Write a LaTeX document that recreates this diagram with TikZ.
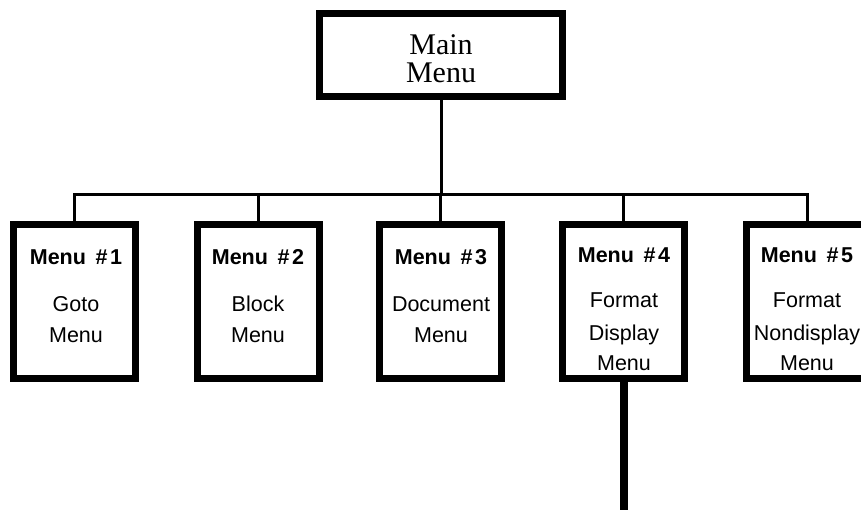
\documentclass[tikz,border=0pt]{standalone}
\usepackage{fontspec}
\setmainfont{Liberation Serif}
\newfontfamily\sansf{Liberation Sans}
\newcommand{\mnum}[1]{Menu\hspace{0.45em}\#\hspace{0.12em}#1}
\begin{document}
\begin{tikzpicture}[x=1pt,y=-1pt,
  menubox/.style={draw=black,line width=7pt,fill=white,rectangle,minimum width=122pt,minimum height=153pt,inner sep=0pt,outer sep=0pt},
  mainbox/.style={draw=black,line width=7pt,fill=white,rectangle,minimum width=243pt,minimum height=83pt,inner sep=0pt,outer sep=0pt},
  conn/.style={draw=black,line width=3pt},
  stem/.style={draw=black,line width=8pt},
  ttl/.style={anchor=base,inner sep=0pt,font=\sansf\bfseries\fontsize{21.5}{24}\selectfont},
  txt/.style={anchor=base,inner sep=0pt,font=\sansf\fontsize{21.5}{24}\selectfont},
  mtxt/.style={anchor=center,align=center,inner sep=0pt,font=\fontsize{30}{28}\selectfont}]
\useasboundingbox (0,0) rectangle (861,510);
\coordinate (busR) at (807,195);
\coordinate (endpt) at (624,515);
\node[mainbox] (main) at (441,55) {};
\node[menubox] (b1) at (74.5,301.5) {};
\node[menubox] (b2) at (258,301.5) {};
\node[menubox] (b3) at (440.5,301.5) {};
\node[menubox] (b4) at (623.5,301.5) {};
\node[menubox] (b5) at (807,301.5) {};
% connectors
\draw[conn] (b1.north) |- (busR) -- (b5.north);
\draw[conn] (main.south) -- (main.south |- busR);
\draw[conn] (b2.north) -- (b2.north |- busR);
\draw[conn] (b3.north) -- (b3.north |- busR);
\draw[conn] (b4.north) -- (b4.north |- busR);
\draw[stem] (b4.south) -- (b4.south |- endpt);
% texts
\node[mtxt] (mt) at (441,59) {Main\\Menu};
\node[ttl] (t1) at (76,265) {\mnum{1}};
\node[txt] (g1) at (76,312) {Goto};
\node[txt] (g2) at (76,342) {Menu};
\node[ttl] (t2) at (258,265) {\mnum{2}};
\node[txt] (k1) at (258,312) {Block};
\node[txt] (k2) at (258,342) {Menu};
\node[ttl] (t3) at (441,265) {\mnum{3}};
\node[txt] (d1) at (441,312) {Document};
\node[txt] (d2) at (441,342) {Menu};
\node[ttl] (t4) at (624,263) {\mnum{4}};
\node[txt] (f1) at (624,308) {Format};
\node[txt] (f2) at (624,340) {Display};
\node[txt] (f3) at (624,370) {Menu};
\node[ttl] (t5) at (807,263) {\mnum{5}};
\node[txt] (n1) at (807,308) {Format};
\node[txt] (n2) at (807,340) {Nondisplay};
\node[txt] (n3) at (807,370) {Menu};
\end{tikzpicture}
\end{document}
